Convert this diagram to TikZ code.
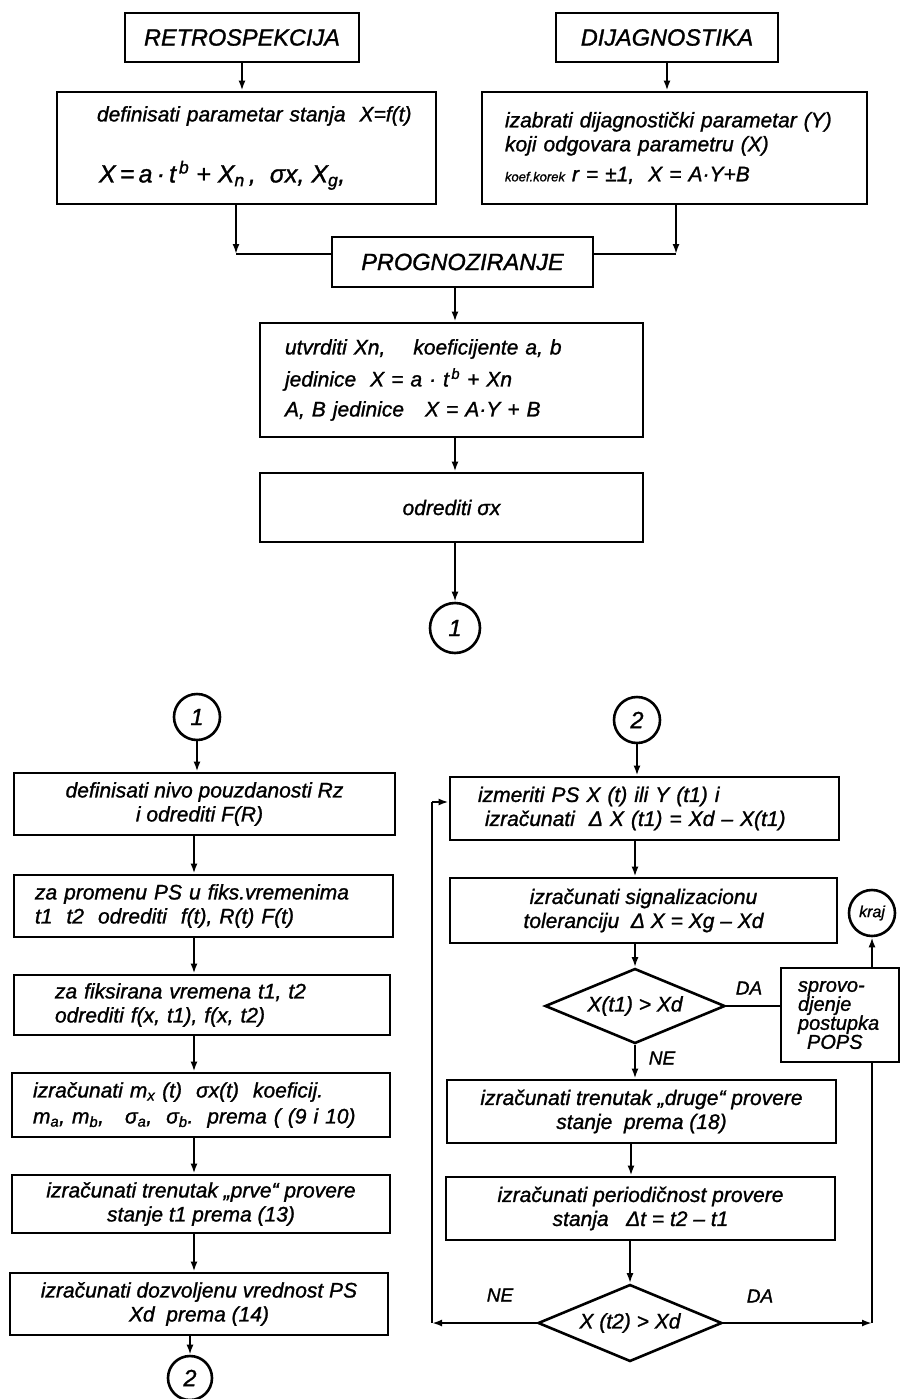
\documentclass[tikz,border=0pt]{standalone}
\usepackage{fontspec}
\setmainfont{Liberation Sans}[ItalicFeatures={FakeBold=1.2}]
\usetikzlibrary{arrows.meta,shapes.geometric}
\newcommand\bodyf{\fontsize{21}{24}\selectfont\itshape}
\newcommand\headf{\fontsize{23.5}{26}\selectfont\itshape}
\newcommand\smallf{\fontsize{13}{15}\selectfont\itshape}
\newcommand\bigf{\fontsize{25}{28}\selectfont\itshape}
\begin{document}
\begin{tikzpicture}[x=1pt,y=-1pt,
  box/.style={draw,line width=2.8pt,rectangle,inner sep=0pt,font=\bodyf},
  hbox/.style={box,font=\headf,minimum height=49pt},
  cbox/.style={box,align=center},
  con/.style={draw,circle,line width=2.6pt,inner sep=0pt,minimum size=46pt,font=\headf},
  dia/.style={draw,diamond,line width=2.6pt,inner sep=0pt,aspect=2.4,font=\bodyf},
  lbl/.style={font=\fontsize{19}{21}\selectfont\itshape},
  arr/.style={line width=2.4pt,-{Latex[length=10pt,width=7pt]}},
  ln/.style={line width=2.4pt}]
\useasboundingbox (0,0) rectangle (902,1399);
% ---------------- top part ----------------
\node[hbox,minimum width=234pt] (retro) at (242,37.5) {RETROSPEKCIJA};
\node[hbox,minimum width=222pt] (dijag) at (667,37.5) {DIJAGNOSTIKA};
\node[box,minimum width=379pt,minimum height=112pt,text width=351pt,align=left] (def) at (246.5,148)
  {\hspace*{26pt}definisati parametar stanja\ \ X=f(t)\\[34pt]
   \hspace*{28pt}{\bigf X\,=\,a\,·\,t\textsuperscript{\,b} + X\textsubscript{n}\,,\ \ σx, X\textsubscript{g},}};
\node[box,minimum width=385pt,minimum height=112pt,text width=339pt,align=left] (diag) at (674.5,148)
  {izabrati dijagnostički parametar (Y)\\
   koji odgovara parametru (X)\\[6pt]
   {\smallf koef.korek} r = ±1,\ \ X = A·Y+B};
\node[hbox,minimum width=261pt,minimum height=50pt] (prog) at (462.5,262) {PROGNOZIRANJE};
\node[box,minimum width=383pt,minimum height=114pt,text width=333pt,align=left] (utv) at (451.5,380)
  {utvrditi Xn,\ \ \ \ koeficijente\ a, b\\[8pt]
   jedinice\ \ X = a · t\textsuperscript{\,b} + Xn\\[6pt]
   A, B\ jedinice\ \ \ X = A·Y + B};
\node[cbox,minimum width=383pt,minimum height=69pt] (odr) at (451.5,507.5) {odrediti σx};
\node[con,minimum size=50pt] (c1top) at (455,628) {1};
\coordinate (cL) at (236,254);
\coordinate (cR) at (676,254);
\coordinate (ax) at (455,0);
\draw[arr] (retro.south) -- (retro.south |- def.north);
\draw[arr] (dijag.south) -- (dijag.south |- diag.north);
\draw[arr] (cL |- def.south) -- (cL);
\draw[ln] (cL) -- (cL -| prog.west);
\draw[arr] (cR |- diag.south) -- (cR);
\draw[ln] (cR) -- (cR -| prog.east);
\draw[arr] (ax |- prog.south) -- (ax |- utv.north);
\draw[arr] (ax |- utv.south) -- (ax |- odr.north);
\draw[arr] (ax |- odr.south) -- (c1top.north);
% ---------------- bottom left ----------------
\node[con] (c1) at (197,717) {1};
\node[cbox,minimum width=381pt,minimum height=62pt] (L1) at (204.5,804)
  {definisati nivo pouzdanosti Rz\\ \hspace*{-10pt}i odrediti F(R)};
\node[box,minimum width=379pt,minimum height=62pt,text width=337pt,align=left] (L2) at (203.5,906)
  {za promenu PS u fiks.vremenima\\ t1\ \ t2\ \ odrediti\ \ f(t), R(t) F(t)};
\node[box,minimum width=376pt,minimum height=60pt,text width=294pt,align=left] (L3) at (202,1005)
  {za fiksirana vremena t1, t2\\ odrediti f(x, t1), f(x, t2)};
\node[box,minimum width=378pt,minimum height=64pt,text width=336pt,align=left] (L4) at (201,1105)
  {izračunati m\textsubscript{x} (t)\ \ σx(t)\ \ koeficij.\\[2pt]
   m\textsubscript{a}, m\textsubscript{b},\ \ \ σ\textsubscript{a},\ \ σ\textsubscript{b}.\ \ prema ( (9 i 10)};
\node[cbox,minimum width=378pt,minimum height=58pt] (L5) at (201,1204)
  {izračunati trenutak „prve“ provere\\ stanje t1 prema (13)};
\node[cbox,minimum width=378pt,minimum height=62pt] (L6) at (199,1304)
  {izračunati dozvoljenu vrednost PS\\ Xd\ \ prema (14)};
\node[con,minimum size=44pt] (c2L) at (190,1378) {2};
\coordinate (bx) at (194,0);
\draw[arr] (c1.south) -- (c1.south |- L1.north);
\draw[arr] (bx |- L1.south) -- (bx |- L2.north);
\draw[arr] (bx |- L2.south) -- (bx |- L3.north);
\draw[arr] (bx |- L3.south) -- (bx |- L4.north);
\draw[arr] (bx |- L4.south) -- (bx |- L5.north);
\draw[arr] (bx |- L5.south) -- (bx |- L6.north);
\draw[arr] (c2L.north |- L6.south) -- (c2L.north);
% ---------------- bottom right ----------------
\node[con] (c2R) at (637,720) {2};
\node[box,minimum width=389pt,minimum height=63pt,text width=333pt,align=left] (R1) at (644.5,808.5)
  {izmeriti PS X (t) ili Y (t1) i\\ \ izračunati\ \ Δ X (t1) = Xd – X(t1)};
\node[cbox,minimum width=387pt,minimum height=65pt] (R2) at (643.5,910.5)
  {izračunati signalizacionu\\ toleranciju\ \ Δ X = Xg – Xd};
\node[dia,minimum width=180pt,minimum height=75pt] (D1) at (635,1006) {X(t1) > Xd};
\node[box,minimum width=118pt,minimum height=94pt,text width=84pt,align=left,
      font=\fontsize{20}{19}\selectfont\itshape] (sp) at (840,1015)
  {sprovo-\\djenje\\postupka\\\hspace*{9pt}POPS};
\node[con,font=\fontsize{16}{18}\selectfont\itshape] (kraj) at (872,913) {kraj};
\node[cbox,minimum width=389pt,minimum height=63pt] (R3) at (641.5,1111.5)
  {izračunati trenutak „druge“ provere\\ stanje\ \ prema (18)};
\node[cbox,minimum width=389pt,minimum height=63pt] (R4) at (640.5,1208.5)
  {izračunati periodičnost provere\\ stanja\ \ \ Δt = t2 – t1};
\node[dia,minimum width=184pt,minimum height=77pt] (D2) at (630,1323) {X (t2) > Xd};
\node[lbl] (da1) at (749,988) {DA};
\node[lbl] (ne1) at (662,1058) {NE};
\node[lbl] (ne2) at (500,1295) {NE};
\node[lbl] (da2) at (760,1296) {DA};
\coordinate (loopL) at (432,1323);
\coordinate (loopT) at (432,802);
\coordinate (br) at (872,1323);
\coordinate (rx) at (635,0);
\coordinate (rx2) at (631,0);
\draw[arr] (c2R.south) -- (c2R.south |- R1.north);
\draw[arr] (rx |- R1.south) -- (rx |- R2.north);
\draw[arr] (D1.north |- R2.south) -- (D1.north);
\draw[arr] (D1.south) -- (D1.south |- R3.north);
\draw[arr] (rx2 |- R3.south) -- (rx2 |- R4.north);
\draw[ln] (D1.east) -- (D1.east -| sp.west);
\draw[arr] (D2.north |- R4.south) -- (D2.north);
\draw[arr] (D2.west) -- (loopL);
\draw[ln] (loopL) -- (loopT);
\draw[arr] (loopT) -- (loopT -| R1.west);
\draw[arr] (D2.east) -- (br);
\draw[ln] (br) -- (br |- sp.south);
\draw[arr] (kraj.south |- sp.north) -- (kraj.south);
\end{tikzpicture}
\end{document}
